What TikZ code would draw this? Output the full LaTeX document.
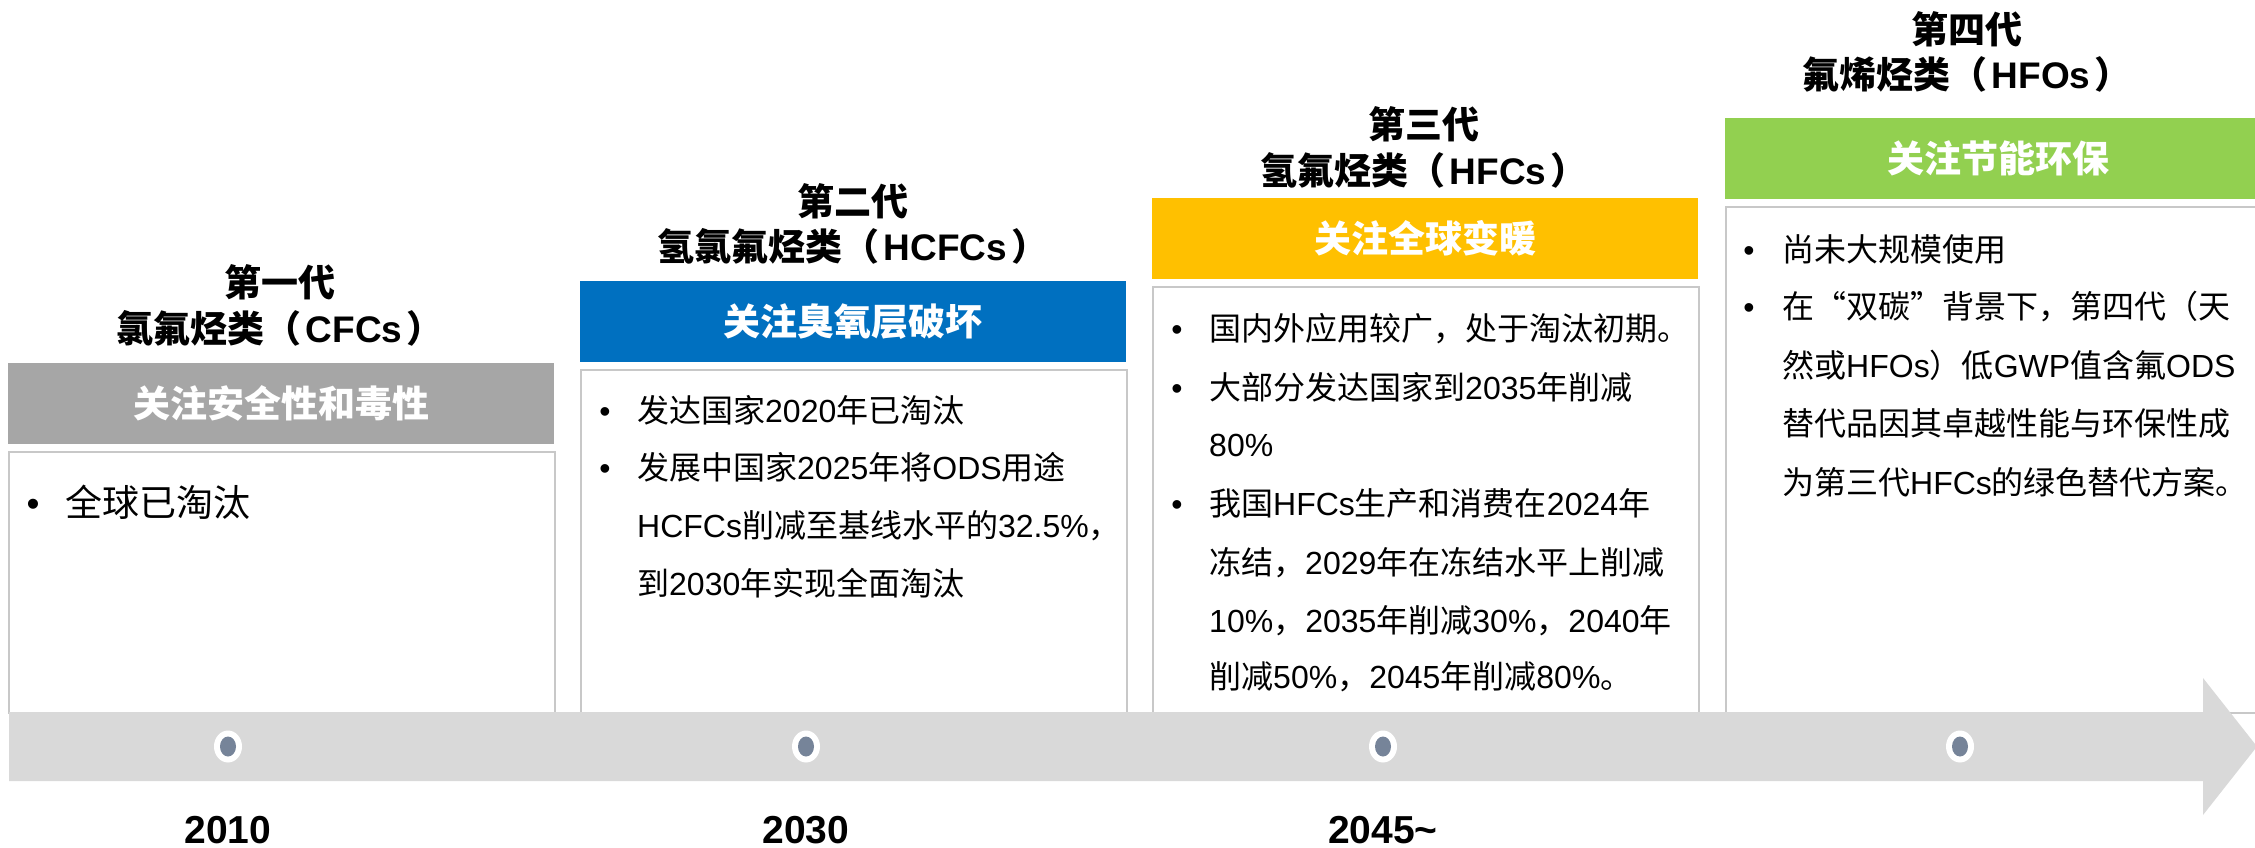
\documentclass[tikz,border=0pt]{standalone}
\usepackage{fontspec}
\setmainfont{Noto Sans CJK SC}
\newfontfamily\en{Liberation Sans}
\newcommand\E[1]{{\en#1}}
\newcommand\PE[1]{（\kern4pt{\en#1}\kern4pt）}
\usetikzlibrary{shapes.geometric}
\definecolor{hgray}{HTML}{A6A6A6}
\definecolor{hblue}{HTML}{0070C0}
\definecolor{hyellow}{HTML}{FFC000}
\definecolor{hgreen}{HTML}{92D050}
\definecolor{agray}{HTML}{D9D9D9}
\definecolor{bgray}{HTML}{C8C8C8}
\definecolor{dotc}{HTML}{768499}
\begin{document}
\begin{tikzpicture}[x=1pt,y=-1pt,
  hbox/.style={anchor=north west, minimum width=546pt, minimum height=81pt, inner sep=0pt, text=white, font=\bfseries\fontsize{37}{44}\selectfont},
  cbox/.style={anchor=north west, minimum width=546pt, draw=bgray, line width=1.5pt, fill=white, inner sep=0pt},
  titl/.style={inner sep=0pt, font=\bfseries\fontsize{37}{44}\selectfont, text height=28pt, text depth=0pt},
  bodytext/.style={anchor=west, inner sep=0pt, font=\fontsize{32}{38}\selectfont, text height=24pt, text depth=0pt},
  bodybig/.style={bodytext, font=\fontsize{37}{44}\selectfont, text height=28pt},
  bul/.style={inner sep=0pt, font=\en\fontsize{32}{38}\selectfont, text height=24pt, text depth=0pt},
  bulbig/.style={bul, font=\en\fontsize{37}{44}\selectfont, text height=28pt},
  yearlab/.style={inner sep=0pt, font=\en\bfseries\fontsize{39}{46}\selectfont, text height=28pt, text depth=0pt},
  dotout/.style={ellipse, fill=white, minimum width=28pt, minimum height=32pt, inner sep=0pt},
  dotin/.style={ellipse, fill=dotc, minimum width=16pt, minimum height=20pt, inner sep=0pt}]
\useasboundingbox (0,0) rectangle (2255,848);
\clip (0,0) rectangle (2255,848);

% content boxes
\node[cbox, minimum height=261pt] (c1) at (8,451) {};
\node[cbox, minimum height=343pt] (c2) at (580,369) {};
\node[cbox, minimum height=426pt] (c3) at (1152,286) {};
\node[cbox, minimum height=506pt] (c4) at (1725,206) {};

% headers
\node[hbox, fill=hgray] (h1) at (8,363) {关注安全性和毒性};
\node[hbox, fill=hblue] (h2) at (580,281) {关注臭氧层破坏};
\node[hbox, fill=hyellow] (h3) at (1152,198) {关注全球变暖};
\node[hbox, fill=hgreen] (h4) at (1725,118) {关注节能环保};

% titles
\node[titl] (t1a) at (280,282) {第一代};
\node[titl] (t1b) at (280,328) {氯氟烃类\PE{CFCs}};
\node[titl] (t2a) at (853,201) {第二代};
\node[titl] (t2b) at (853,246) {氢氯氟烃类\PE{HCFCs}};
\node[titl] (t3a) at (1424,125) {第三代};
\node[titl] (t3b) at (1424,170) {氢氟烃类\PE{HFCs}};
\node[titl] (t4a) at (1967,30) {第四代};
\node[titl] (t4b) at (1967,75) {氟烯烃类\PE{HFOs}};

% timeline arrow
\fill[agray] (9,712) -- (2203,712) -- (2203,678) -- (2257,746.5) -- (2203,815) -- (2203,781) -- (9,781) -- cycle;

% dots
\foreach \n/\x in {1/228,2/806,3/1383,4/1960}{
  \node[dotout] (d\n) at (\x,746.5) {};
  \node[dotin] (di\n) at (d\n) {};
}

% years
\node[yearlab] (y1) at (228,829) {2010};
\node[yearlab] (y2) at (806,829) {2030};
\node[yearlab] (y3) at (1383,829) {2045\textasciitilde};

% column 1 text
\node[bulbig] (b11) at (33,502) {•};
\node[bodybig] (l11) at (65,502) {全球已淘汰};

% column 2 text
\node[bul] (b21) at (605,410) {•};
\node[bodytext] (l21) at (637,410) {发达国家\E{2020}年已淘汰};
\node[bul] (b22) at (605,467) {•};
\node[bodytext] (l22) at (637,467) {发展中国家\E{2025}年将\E{ODS}用途};
\node[bodytext] (l23) at (637,525) {\E{HCFCs}削减至基线水平的\E{32.5\%}，};
\node[bodytext] (l24) at (637,583) {到\E{2030}年实现全面淘汰};

% column 3 text
\node[bul] (b31) at (1177,328) {•};
\node[bodytext] (l31) at (1209,328) {国内外应用较广，处于淘汰初期。};
\node[bul] (b32) at (1177,387) {•};
\node[bodytext] (l32) at (1209,387) {大部分发达国家到\E{2035}年削减};
\node[bodytext] (l33) at (1209,444) {\E{80\%}};
\node[bul] (b33) at (1177,503) {•};
\node[bodytext] (l34) at (1209,503) {我国\E{HFCs}生产和消费在\E{2024}年};
\node[bodytext] (l35) at (1209,562) {冻结，\E{2029}年在冻结水平上削减};
\node[bodytext] (l36) at (1209,620) {\E{10\%}，\E{2035}年削减\E{30\%}，\E{2040}年};
\node[bodytext] (l37) at (1209,676) {削减\E{50\%}，\E{2045}年削减\E{80\%}。};

% column 4 text
\node[bul] (b41) at (1749,249) {•};
\node[bodytext] (l41) at (1782,249) {尚未大规模使用};
\node[bul] (b42) at (1749,306) {•};
\node[bodytext] (l42) at (1782,306) {在“双碳”背景下，第四代（天};
\node[bodytext] (l43) at (1782,365) {然或\E{HFOs}）低\E{GWP}值含氟\E{ODS}};
\node[bodytext] (l44) at (1782,423) {替代品因其卓越性能与环保性成};
\node[bodytext] (l45) at (1782,482) {为第三代\E{HFCs}的绿色替代方案。};
\end{tikzpicture}
\end{document}
